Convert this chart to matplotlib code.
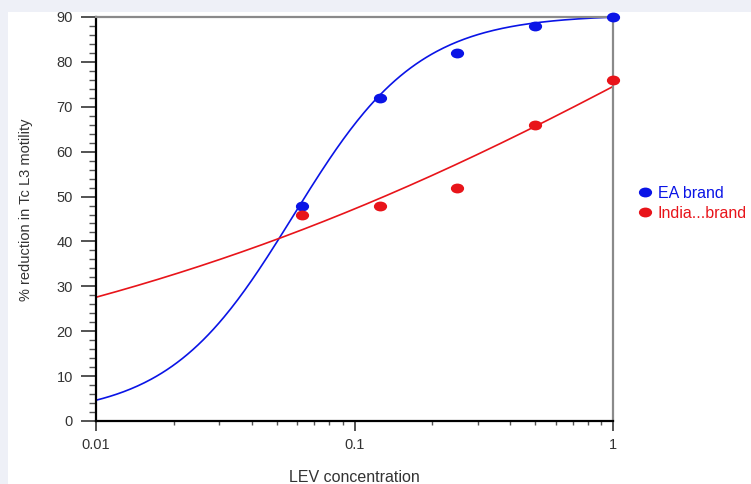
import numpy as np
import matplotlib
matplotlib.use('Agg')
import matplotlib.pyplot as plt
from matplotlib.patches import Rectangle
from matplotlib.path import Path
from matplotlib.transforms import Affine2D
from matplotlib.ticker import FixedLocator, FixedFormatter, LogLocator, MultipleLocator, NullFormatter

plt.rcParams['font.family'] = ['Liberation Sans', 'DejaVu Sans']

# Data
conc = [0.0625, 0.125, 0.25, 0.5, 1.0]
ea_brand = [48, 72, 82, 88, 90]
india_brand = [46, 48, 52, 66, 76]

# fitted dose-response curves (bottom, top, EC50, hill)
ea_fit = (1.0, 90.5, 0.058, 1.8)
india_fit = (0.0, 190.0, 4.53, 0.29)

blue = '#0a14e6'
red = '#e8141a'
text_col = '#333333'

# the source picture is a bit stretched sideways, so the dots are flat ellipses
dot = Path.unit_circle().transformed(Affine2D().scale(1.4, 1.0))


def logistic(x, p):
    bottom, top, ec50, hill = p
    return bottom + (top - bottom) / (1 + (ec50 / x) ** hill)


fig = plt.figure(figsize=(7.51, 4.84), dpi=100)
fig.patch.set_facecolor('#eef0f7')
fig.patches.append(Rectangle((8 / 751, 0), 1, (484 - 12) / 484, transform=fig.transFigure,
                             facecolor='white', edgecolor='none', zorder=-1))

ax = fig.add_axes([96 / 751, (484 - 421) / 484, (613 - 96) / 751, (421 - 17) / 484])
ax.set_facecolor('white')

xs = np.logspace(-2, 0, 300)
ax.plot(xs, logistic(xs, ea_fit), color=blue, lw=1.2)
ax.plot(xs, logistic(xs, india_fit), color=red, lw=1.2)
ax.plot(conc, ea_brand, linestyle='none', marker=dot, color=blue, ms=8.5, label='EA brand',
        clip_on=False, zorder=5)
ax.plot(conc, india_brand, linestyle='none', marker=dot, color=red, ms=8.5, label='India...brand',
        clip_on=False, zorder=5)

ax.set_xscale('log')
ax.set_xlim(0.01, 1)
ax.set_ylim(0, 90)
ax.xaxis.set_major_locator(FixedLocator([0.01, 0.1, 1]))
ax.xaxis.set_major_formatter(FixedFormatter(['0.01', '0.1', '1']))
ax.xaxis.set_minor_locator(LogLocator(base=10, subs=np.arange(2, 10)))
ax.xaxis.set_minor_formatter(NullFormatter())
ax.yaxis.set_major_locator(MultipleLocator(10))
ax.yaxis.set_minor_locator(MultipleLocator(2))

for s in ['left', 'bottom']:
    ax.spines[s].set_color('black')
    ax.spines[s].set_linewidth(1.6)
for s in ['top', 'right']:
    ax.spines[s].set_color('#8a8a8a')
    ax.spines[s].set_linewidth(1.6)

ax.tick_params(axis='y', which='major', length=11, width=1.3, color='#444444', labelsize=10.5, pad=5.5)
ax.tick_params(axis='y', which='minor', length=5, width=1.0, color='#555555')
ax.tick_params(axis='x', which='major', length=7.5, width=1.3, color='#444444', labelsize=10.5, pad=5)
ax.tick_params(axis='x', which='minor', length=3, width=1.0, color='#555555')
ax.tick_params(labelcolor=text_col)

ax.set_xlabel('LEV concentration', fontsize=11.5, color=text_col)
ax.xaxis.set_label_coords(0.5, (421 - 470) / 404)
ax.set_ylabel('% reduction in Tc L3 motility', fontsize=10.5, color=text_col)
ax.yaxis.set_label_coords((33 - 96) / 517, (421 - 210) / 404)

leg = ax.legend(loc='upper left', bbox_to_anchor=(637 / 751, 1 - 186 / 484), bbox_transform=fig.transFigure,
                frameon=False, fontsize=11.5, handletextpad=0.3, labelspacing=0.3,
                handlelength=1.0, borderaxespad=0, borderpad=0, labelcolor='markerfacecolor')

fig.savefig('out.png', dpi=100, facecolor=fig.get_facecolor())
